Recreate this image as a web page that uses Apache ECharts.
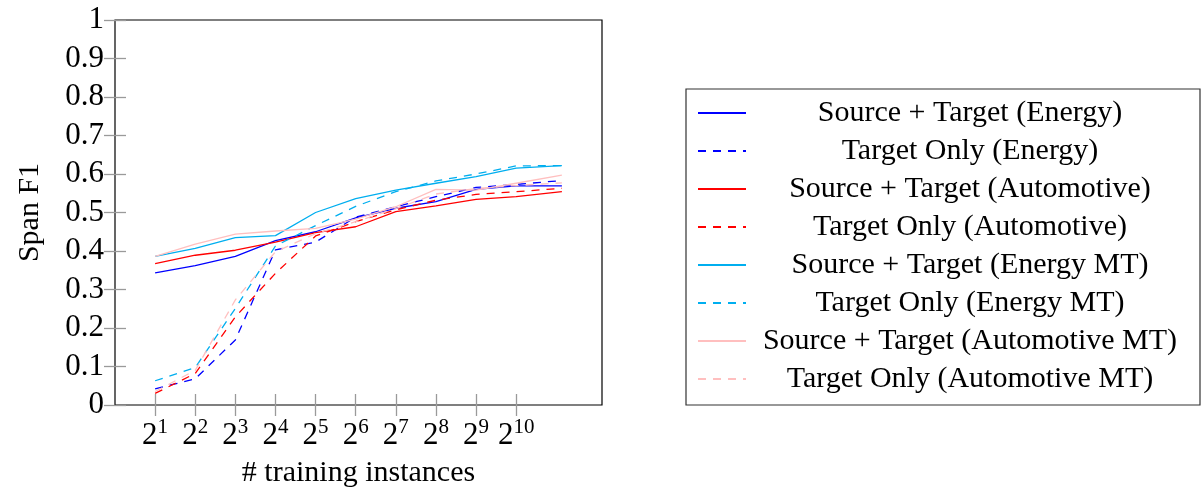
<!DOCTYPE html>
<html>
<head>
	<meta charset="utf-8" />
	<title>Span F1 vs training instances</title>
	<script src="https://cdn.jsdelivr.net/npm/echarts@6/dist/echarts.min.js"></script>
	<style>
		html, body { margin: 0; padding: 0; background: #fff; }
		#chart { width: 1201px; height: 492px; }
	</style>
</head>
<body>
	<div id="chart"></div>
	<script type="text/javascript">
		// x = log2(#training instances); last point is the full set
		const xPow = [1, 2, 3, 4, 5, 6, 7, 8, 9, 10, 11.14];
		const tickPow = [1, 2, 3, 4, 5, 6, 7, 8, 9, 10];

		const seriesNames = [
			'Source + Target (Energy)',
			'Target Only (Energy)',
			'Source + Target (Automotive)',
			'Target Only (Automotive)',
			'Source + Target (Energy MT)',
			'Target Only (Energy MT)',
			'Source + Target (Automotive MT)',
			'Target Only (Automotive MT)'
		];

		const stEnergy     = [0.343, 0.362, 0.386, 0.427, 0.450, 0.486, 0.511, 0.528, 0.560, 0.569, 0.569];
		const toEnergy     = [0.042, 0.068, 0.169, 0.403, 0.423, 0.488, 0.515, 0.541, 0.565, 0.573, 0.583];
		const stAuto       = [0.367, 0.389, 0.402, 0.423, 0.448, 0.463, 0.502, 0.517, 0.534, 0.541, 0.554];
		const toAuto       = [0.030, 0.082, 0.229, 0.342, 0.439, 0.476, 0.507, 0.532, 0.547, 0.554, 0.563];
		const stEnergyMT   = [0.386, 0.407, 0.435, 0.440, 0.500, 0.536, 0.558, 0.576, 0.593, 0.615, 0.622];
		const toEnergyMT   = [0.063, 0.097, 0.251, 0.413, 0.466, 0.516, 0.554, 0.582, 0.600, 0.621, 0.622];
		const stAutoMT     = [0.386, 0.418, 0.444, 0.452, 0.459, 0.483, 0.515, 0.560, 0.558, 0.576, 0.597];
		const toAutoMT     = [0.035, 0.090, 0.273, 0.398, 0.445, 0.476, 0.510, 0.548, 0.562, 0.570, 0.577];

		const seriesVals = [stEnergy, toEnergy, stAuto, toAuto, stEnergyMT, toEnergyMT, stAutoMT, toAutoMT];
		const seriesColors = ['#0000ff', '#0000ff', '#ff0000', '#ff0000', '#00aeef', '#00aeef', '#ffbfbf', '#ffbfbf'];
		const seriesDash = [false, true, false, true, false, true, false, true];

		const font = '"Liberation Serif", "DejaVu Serif", serif';
		const tickColor = '#9a9a9a';

		const chart = echarts.init(document.getElementById('chart'));

		const series = seriesNames.map(function (name, i) {
			return {
				name: name,
				type: 'line',
				xAxisIndex: 0,
				yAxisIndex: 0,
				symbol: 'none',
				showSymbol: false,
				animation: false,
				lineStyle: {
					color: seriesColors[i],
					width: 1.3,
					type: seriesDash[i] ? [8, 7] : 'solid'
				},
				itemStyle: { color: seriesColors[i] },
				data: xPow.map(function (x, k) { return [x, seriesVals[i][k]]; })
			};
		});

		const option = {
			animation: false,
			grid: {
				left: 115, right: 599, top: 20, bottom: 87,
				outerBoundsMode: 'none',
				containLabel: false,
				show: true,
				borderColor: '#000',
				borderWidth: 1.2,
				backgroundColor: '#fff'
			},
			legend: {
				data: seriesNames,
				orient: 'vertical',
				left: 686,
				top: 89,
				width: 513,
				padding: [9, 11, 11, 11],
				itemGap: 8,
				itemWidth: 48,
				itemHeight: 10,
				itemStyle: { opacity: 0 },
				borderColor: '#333',
				borderWidth: 1.2,
				backgroundColor: '#fff',
				selectedMode: false,
				formatter: function (name) { return '{t|' + name + '}'; },
				textStyle: {
					fontFamily: font,
					color: '#000',
					rich: {
						t: {
							width: 438,
							align: 'center',
							fontSize: 30,
							lineHeight: 30,
							fontFamily: font,
							color: '#000'
						}
					}
				}
			},
			xAxis: [{
				type: 'value',
				position: 'bottom',
				min: 0,
				max: 12.14,
				name: '# training instances',
				nameLocation: 'middle',
				nameGap: 53,
				nameTextStyle: { fontFamily: font, fontSize: 30, color: '#000' },
				splitLine: { show: false },
				axisLine: { show: false },
				axisTick: {
					show: true, inside: true, length: 11,
					customValues: tickPow,
					lineStyle: { color: tickColor, width: 1.3 }
				},
				axisLabel: {
					customValues: tickPow,
					margin: 12,
					formatter: function (v) { return '{b|2}{s|' + v + '}'; },
					rich: {
						b: { fontFamily: font, fontSize: 31, color: '#000', lineHeight: 34, verticalAlign: 'bottom' },
						s: { fontFamily: font, fontSize: 21, color: '#000', lineHeight: 34, verticalAlign: 'top', padding: [0, 0, 0, 0] }
					}
				}
			}, {
				type: 'value',
				position: 'top',
				min: 0,
				max: 12.14,
				splitLine: { show: false },
				axisLine: { show: false },
				axisLabel: { show: false },
				axisTick: {
					show: true, inside: true, length: 11,
					customValues: tickPow,
					lineStyle: { color: tickColor, width: 1.3 }
				}
			}],
			yAxis: [{
				type: 'value',
				position: 'left',
				min: 0,
				max: 1,
				interval: 0.1,
				name: 'Span F1',
				nameLocation: 'middle',
				nameGap: 70,
				nameTextStyle: { fontFamily: font, fontSize: 30, color: '#000' },
				splitLine: { show: false },
				axisLine: { show: false },
				axisTick: { show: true, inside: true, length: 11, lineStyle: { color: tickColor, width: 1.3 } },
				axisLabel: {
					margin: 11,
					fontFamily: font,
					fontSize: 31,
					color: '#000',
					formatter: function (v) { return Math.round(v * 10) / 10 + ''; }
				}
			}, {
				type: 'value',
				position: 'right',
				min: 0,
				max: 1,
				interval: 0.1,
				splitLine: { show: false },
				axisLine: { show: false },
				axisLabel: { show: false },
				axisTick: { show: true, inside: true, length: 11, lineStyle: { color: tickColor, width: 1.3 } }
			}],
			series: series
		};

		chart.setOption(option);

		window.onresize = function () {
			chart.resize();
		};
	</script>
</body>
</html>
